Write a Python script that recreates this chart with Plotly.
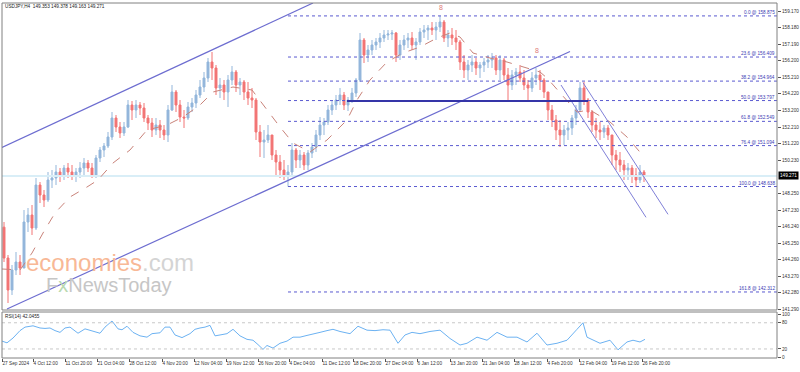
import plotly.graph_objects as go

# ---------------- data ----------------
title_text = "USDJPY,H4  149.353 149.378 149.163 149.271"
rsi_label = "RSI(14) 42.0455"
last_price = 149.271

first_open = 146.20
high = [146.51, 144.53, 143.93, 144.71, 144.53, 147.23, 147.35, 147.53, 149.15, 148.91,
        148.43, 149.51, 149.63, 149.93, 149.75, 149.93, 150.05, 149.93, 149.75, 150.11,
        150.35, 150.23, 150.05, 150.53, 151.01, 151.25, 151.91, 153.11, 152.93, 152.51,
        152.51, 153.83, 153.77, 153.83, 153.71, 153.65, 152.93, 152.75, 152.75, 152.63,
        152.33, 153.53, 154.73, 154.43, 153.83, 153.23, 153.71, 153.95, 154.43, 155.03,
        155.51, 156.35, 156.71, 155.93, 155.15, 155.03, 155.33, 155.87, 155.63, 155.15,
        155.03, 154.91, 154.55, 153.95, 152.33, 152.03, 152.33, 151.73, 150.83, 150.53,
        150.23, 149.93, 151.25, 150.95, 150.83, 150.71, 150.83, 151.25, 152.03, 152.81,
        152.75, 153.53, 153.83, 154.13, 154.55, 154.31, 154.01, 154.55, 155.15, 157.85,
        157.55, 157.13, 157.43, 157.55, 157.85, 158.03, 158.03, 158.03, 157.91, 157.43,
        157.73, 157.85, 157.91, 157.55, 158.15, 158.33, 158.33, 158.51, 158.51, 158.88,
        158.63, 158.03, 158.15, 158.03, 157.43, 156.53, 156.23, 156.53, 156.35, 156.11,
        156.35, 156.53, 156.65, 156.53, 156.53, 156.35, 155.75, 155.63, 155.75, 155.93,
        155.63, 155.03, 155.51, 155.75, 155.63, 155.15, 154.31, 153.53, 152.93, 152.63,
        152.33, 152.51, 152.93, 153.53, 154.91, 154.91, 153.95, 153.23, 152.75, 152.51,
        152.33, 152.33, 151.73, 150.83, 150.71, 150.23, 150.05, 149.93, 149.75, 149.93,
        149.63]
low = [144.11, 141.65, 142.13, 143.33, 143.33, 143.75, 145.91, 145.73, 146.03, 147.65,
       147.41, 147.71, 148.55, 148.73, 148.91, 149.03, 149.15, 149.03, 148.91, 149.15,
       149.33, 149.51, 149.15, 149.15, 150.11, 150.41, 150.95, 151.43, 151.91, 151.55,
       151.67, 152.15, 152.63, 152.75, 152.93, 152.51, 152.03, 151.61, 151.73, 151.55,
       151.43, 151.31, 153.17, 153.11, 152.51, 152.15, 152.63, 153.11, 153.35, 153.95,
       154.31, 154.91, 155.03, 154.13, 153.95, 153.83, 153.41, 154.73, 154.31, 154.13,
       153.83, 153.53, 153.35, 151.43, 150.41, 150.35, 151.25, 150.23, 149.33, 149.15,
       149.03, 148.64, 149.33, 149.75, 149.75, 149.63, 149.63, 150.35, 150.71, 151.43,
       151.73, 152.33, 152.93, 153.23, 153.53, 153.23, 153.17, 153.65, 154.01, 154.91,
       156.05, 156.11, 156.53, 156.83, 156.95, 157.31, 157.43, 157.43, 156.11, 156.23,
       156.83, 156.95, 156.83, 156.23, 157.13, 157.55, 157.43, 157.73, 157.43, 157.91,
       157.31, 157.01, 157.13, 156.83, 155.63, 155.15, 155.03, 155.51, 155.33, 155.15,
       155.51, 155.75, 155.75, 155.33, 155.03, 155.03, 153.71, 154.43, 154.73, 154.91,
       154.43, 153.71, 154.31, 154.73, 154.43, 153.95, 152.63, 152.21, 151.43, 151.01,
       151.13, 151.43, 151.73, 152.33, 153.11, 153.53, 152.75, 151.91, 151.55, 151.43,
       151.55, 151.43, 149.93, 149.63, 149.51, 149.03, 149.03, 148.85, 148.61, 148.85,
       148.91]
close = [144.35, 142.43, 143.63, 144.11, 143.75, 146.51, 146.93, 146.15, 148.73, 148.13,
         147.83, 149.03, 149.15, 149.51, 149.27, 149.75, 149.51, 149.33, 149.51, 149.75,
         150.05, 149.75, 149.33, 150.35, 150.83, 151.07, 151.61, 152.75, 152.21, 151.85,
         152.21, 153.53, 153.23, 153.53, 153.35, 152.75, 152.45, 152.03, 152.33, 152.03,
         151.73, 153.23, 154.31, 153.53, 152.81, 152.75, 153.41, 153.65, 154.13, 154.61,
         155.15, 156.11, 155.75, 154.55, 154.73, 154.31, 155.03, 155.51, 154.73, 154.91,
         154.31, 153.95, 153.83, 151.91, 151.31, 151.43, 151.73, 150.53, 150.11, 149.63,
         149.33, 149.51, 150.83, 150.23, 150.53, 149.93, 150.65, 151.01, 151.73, 152.33,
         152.51, 153.23, 153.53, 153.83, 154.13, 153.53, 153.83, 154.25, 155.03, 157.43,
         156.53, 156.83, 157.13, 157.31, 157.55, 157.73, 157.79, 157.85, 156.53, 157.13,
         157.43, 157.55, 157.13, 157.31, 157.91, 158.03, 158.15, 158.03, 158.21, 158.51,
         157.55, 157.73, 157.55, 157.31, 156.11, 155.63, 155.93, 156.11, 155.75, 155.93,
         156.11, 156.23, 156.35, 155.63, 156.23, 155.33, 154.73, 155.33, 155.51, 155.15,
         154.73, 154.55, 155.15, 155.33, 155.03, 154.31, 153.23, 152.63, 152.03, 151.73,
         152.03, 152.15, 152.75, 153.23, 154.55, 153.83, 153.11, 152.33, 152.03, 151.91,
         152.15, 151.73, 150.53, 150.23, 149.93, 149.63, 149.75, 149.33, 149.03, 149.51,
         149.27]

# moving average (dashed)
ma_x = [0, 18, 30, 41, 53, 68, 85, 96, 111, 128, 145, 165, 181, 198, 211, 231, 250, 261,
        278, 291, 308, 325, 345, 355, 368, 385, 401, 418, 435, 448, 458, 471, 488, 505,
        525, 538, 545, 558, 575, 588, 608, 625, 643]
ma_y = [143.69, 143.63, 144.65, 145.85, 147.05, 148.01, 148.61, 149.03, 150.05, 150.83,
        152.03, 152.33, 152.81, 153.53, 154.31, 154.61, 154.43, 153.53, 152.21, 151.25,
        150.71, 151.43, 152.63, 153.83, 155.03, 156.11, 156.65, 157.01, 157.55, 157.85,
        157.61, 156.65, 156.35, 156.11, 155.75, 155.51, 155.15, 154.25, 153.11, 153.23,
        152.51, 151.61, 150.35]

# RSI(14)
rsi_x = [0, 5, 11, 18, 23, 31, 38, 43, 48, 53, 58, 63, 68, 76, 83, 90, 98, 103, 110, 116,
         120, 125, 131, 138, 145, 150, 158, 163, 168, 173, 180, 188, 193, 198, 203, 208,
         213, 218, 225, 231, 238, 245, 251, 256, 261, 265, 271, 278, 285, 291, 298, 305,
         311, 318, 325, 331, 338, 348, 356, 365, 373, 381, 388, 396, 403, 410, 418, 428,
         438, 448, 458, 465, 475, 485, 495, 505, 515, 525, 535, 545, 555, 565, 575, 581,
         585, 598, 608, 616, 625, 631, 638, 643]
rsi_v = [38, 34, 45, 62, 70, 73, 68, 67, 68, 62, 58, 68, 70, 56, 66, 62, 56, 70, 84, 66,
         64, 72, 58, 50, 47, 55, 57, 70, 70, 52, 46, 55, 65, 68, 70, 74, 50, 52, 55, 65,
         50, 42, 40, 30, 19, 28, 22, 33, 38, 47, 47, 51, 55, 58, 62, 65, 60, 55, 72, 63,
         62, 64, 63, 33, 52, 58, 55, 60, 63, 44, 29, 33, 47, 40, 58, 47, 47, 36, 56, 29,
         33, 40, 65, 80, 47, 33, 40, 18, 36, 40, 36, 42.05]

# Fibonacci retracement
fib_pct = ["0.0", "23.6", "38.2", "50.0", "61.8", "76.4", "100.0", "161.8"]
fib_price = [158.875, 156.409, 154.964, 153.797, 152.549, 151.094, 148.638, 142.312]
fib_start = 286

# trend lines (bar index, price)
asc_low = ([5, 568], [141.29, 156.74])
asc_up = ([0, 311], [150.98, 159.65])
desc_a = ([559, 644], [154.73, 146.79])
desc_b = ([581, 666], [154.87, 146.97])
hline = ([345, 586], [153.77, 153.77])
fractals = ([439, 535], [159.35, 156.77])

price_ticks = [159.17, 158.18, 157.19, 156.20, 155.21, 154.22, 153.20, 152.21, 151.22,
               150.23, 148.25, 147.23, 146.24, 145.25, 144.26, 143.27, 142.28, 141.29]
rsi_ticks = [0, 20, 80, 100]
date_ticks = [0, 31, 63, 95, 127, 160, 192, 224, 256, 287, 320, 351, 383, 415, 448, 480,
              512, 545, 577, 609, 640]
date_labels = ["27 Sep 2024", "4 Oct 12:00", "11 Oct 20:00", "21 Oct 04:00", "28 Oct 12:00",
               "4 Nov 20:00", "12 Nov 04:00", "19 Nov 12:00", "26 Nov 20:00", "4 Dec 04:00",
               "11 Dec 12:00", "18 Dec 20:00", "27 Dec 04:00", "6 Jan 12:00", "13 Jan 20:00",
               "21 Jan 04:00", "28 Jan 12:00", "4 Feb 20:00", "12 Feb 04:00", "19 Feb 12:00",
               "26 Feb 20:00"]

# ---------------- figure ----------------
W, H = 800, 372
FONT = "Liberation Sans"
FS = 4.7
UP, DN = "#93b6db", "#f27474"
CH = "#6d6dd0"

opens = [first_open] + close[:-1]
bar_x = [4 * k + 2 for k in range(len(close))]

def px_x(p):
    return p / W

def px_y(p):
    return 1 - p / H

XD = [px_x(2), px_x(777)]
YD_MAIN = [px_y(310), px_y(3)]
YD_RSI = [px_y(358), px_y(312)]

fig = go.Figure()

fig.add_trace(go.Scatter(x=[0, 775], y=[last_price, last_price], mode="lines",
                         line=dict(color="#d9eef7", width=2), hoverinfo="skip",
                         showlegend=False, xaxis="x", yaxis="y"))

for p in fib_price:
    fig.add_trace(go.Scatter(x=[fib_start, 775], y=[p, p], mode="lines",
                             line=dict(color="#5a5ad0", width=1, dash="dot"),
                             hoverinfo="skip", showlegend=False, xaxis="x", yaxis="y"))

fig.add_trace(go.Candlestick(x=bar_x, open=opens, high=high, low=low, close=close,
                             increasing=dict(line=dict(color=UP, width=1), fillcolor=UP),
                             decreasing=dict(line=dict(color=DN, width=1), fillcolor=DN),
                             whiskerwidth=0, hoverinfo="skip", showlegend=False,
                             xaxis="x", yaxis="y"))

fig.add_trace(go.Scatter(x=ma_x, y=ma_y, mode="lines",
                         line=dict(color="#c9837a", width=1, dash="dash"),
                         hoverinfo="skip", showlegend=False, xaxis="x", yaxis="y"))

for (lx, ly), col, w in [(asc_low, CH, 1.2), (asc_up, CH, 1.2), (desc_a, "#8080d8", 1),
                         (desc_b, "#8080d8", 1), (hline, "#3535a8", 2)]:
    fig.add_trace(go.Scatter(x=lx, y=ly, mode="lines", line=dict(color=col, width=w),
                             hoverinfo="skip", showlegend=False, xaxis="x", yaxis="y"))

fig.add_trace(go.Scatter(x=fractals[0], y=fractals[1], mode="text", text=["8", "8"],
                         textfont=dict(color="#e07878", size=7, family=FONT),
                         hoverinfo="skip", showlegend=False, xaxis="x", yaxis="y"))

fig.add_trace(go.Scatter(x=rsi_x, y=rsi_v, mode="lines",
                         line=dict(color="#6cb2f2", width=1),
                         hoverinfo="skip", showlegend=False, xaxis="x", yaxis="y2"))
for lvl in (80, 20):
    fig.add_trace(go.Scatter(x=[0, 775], y=[lvl, lvl], mode="lines",
                             line=dict(color="#c8c8c8", width=1, dash="dot"),
                             hoverinfo="skip", showlegend=False, xaxis="x", yaxis="y2"))

tickfont = dict(family=FONT, size=FS, color="#333333")
fig.update_layout(
    width=W, height=H, margin=dict(l=0, r=0, t=0, b=0, autoexpand=False),
    paper_bgcolor="white", plot_bgcolor="white", showlegend=False,
    xaxis=dict(domain=XD, range=[0, 775], anchor="y2", showgrid=False, zeroline=False,
               tickmode="array", tickvals=date_ticks, ticktext=date_labels, tickangle=0,
               ticks="outside", ticklen=3, tickcolor="#555", ticklabelposition="outside right",
               tickfont=tickfont, rangeslider=dict(visible=False), showline=False,
               automargin=False),
    yaxis=dict(domain=YD_MAIN, range=[141.23, 159.65], side="right", anchor="x",
               showgrid=False, zeroline=False, tickmode="array", tickvals=price_ticks,
               ticktext=[f"{v:.3f}" for v in price_ticks], ticks="outside", ticklen=3,
               tickcolor="#555", tickfont=tickfont, automargin=False),
    yaxis2=dict(domain=YD_RSI, range=[-0.7, 104.6], side="right", anchor="x",
                showgrid=False, zeroline=False, tickmode="array", tickvals=rsi_ticks,
                ticktext=[str(v) for v in rsi_ticks], ticks="outside", ticklen=3,
                tickcolor="#555", tickfont=tickfont, automargin=False),
)

shapes = []
for yd in (YD_MAIN, YD_RSI):
    shapes.append(dict(type="rect", xref="paper", yref="paper", x0=XD[0], x1=XD[1],
                       y0=yd[0], y1=yd[1], line=dict(color="#808080", width=1)))
fig.update_layout(shapes=shapes)

ann = []
ann.append(dict(xref="paper", yref="paper", x=px_x(3), y=px_y(7), text=title_text,
                showarrow=False, xanchor="left", yanchor="middle",
                font=dict(family=FONT, size=FS, color="#222")))
ann.append(dict(xref="paper", yref="paper", x=px_x(3), y=px_y(316), text=rsi_label,
                showarrow=False, xanchor="left", yanchor="middle",
                font=dict(family=FONT, size=FS, color="#222")))
for pct, p in zip(fib_pct, fib_price):
    ann.append(dict(xref="x", yref="y", x=774, y=p, text=f"{pct} @ {p:.3f}",
                    showarrow=False, xanchor="right", yanchor="bottom", borderpad=0,
                    font=dict(family=FONT, size=FS, color="#3c3cb4")))
ann.append(dict(xref="paper", yref="y", x=px_x(778), y=last_price, text=f"{last_price:.3f}",
                showarrow=False, xanchor="left", yanchor="middle", bgcolor="#000000",
                borderpad=1, font=dict(family=FONT, size=FS, color="white")))
ann.append(dict(xref="paper", yref="paper", x=px_x(110), y=px_y(262),
                text="<span style='color:#f8b896'>economies</span><span style='color:#d4d4d4'>.com</span>",
                showarrow=False, xanchor="center", yanchor="middle",
                font=dict(family=FONT, size=24)))
ann.append(dict(xref="paper", yref="paper", x=px_x(109), y=px_y(285),
                text="F<span style='color:#b9d9b0'>x</span>NewsToday",
                showarrow=False, xanchor="center", yanchor="middle",
                font=dict(family=FONT, size=20, color="#c6c6c6")))
fig.update_layout(annotations=ann)

fig.write_html("out.html", config={"displayModeBar": False},
               post_script="document.body.style.margin='0px';document.body.style.overflow='hidden';")
